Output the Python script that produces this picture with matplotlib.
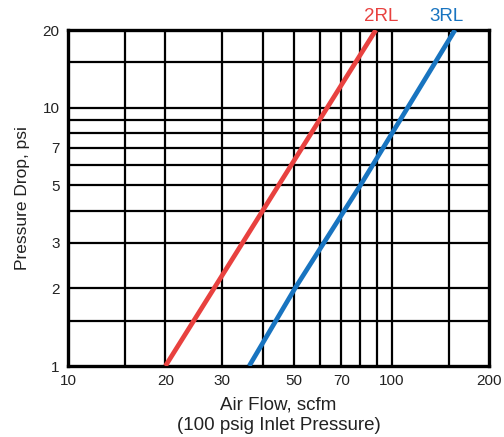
import matplotlib
matplotlib.use("Agg")
import matplotlib.pyplot as plt
from matplotlib.ticker import FixedLocator, NullLocator, FixedFormatter

plt.rcParams['font.family'] = ['Liberation Sans', 'DejaVu Sans']

# Data
flow_2rl = [20, 89.4]
drop_2rl = [1, 20]
flow_3rl = [36.3, 50.3, 80, 157]
drop_3rl = [1, 2, 5, 20]

x_grid = [15, 20, 30, 40, 50, 60, 70, 80, 90, 100, 150]
y_grid = [1.5, 2, 3, 4, 5, 6, 7, 8, 9, 10, 15]
x_ticks = [10, 20, 30, 50, 70, 100, 200]
y_ticks = [1, 2, 3, 5, 7, 10, 20]

red = '#E8413F'
blue = '#1874C0'

fig = plt.figure(figsize=(5.04, 4.37), dpi=100)
ax = fig.add_axes([68/504, 1-366/437, (489-68)/504, (366-30)/437])
ax.set_xscale('log')
ax.set_yscale('log')
ax.set_xlim(10, 200)
ax.set_ylim(1, 20)

for xv in x_grid:
    ax.axvline(xv, color='black', lw=1.6, zorder=1)
for yv in y_grid:
    ax.axhline(yv, color='black', lw=1.6, zorder=1)

ax.plot(flow_2rl, drop_2rl, color=red, lw=3.4, zorder=3, solid_capstyle='butt')
ax.plot(flow_3rl, drop_3rl, color=blue, lw=3.4, zorder=3, solid_capstyle='butt')

ax.xaxis.set_major_locator(FixedLocator(x_ticks))
ax.xaxis.set_major_formatter(FixedFormatter([str(v) for v in x_ticks]))
ax.xaxis.set_minor_locator(NullLocator())
ax.yaxis.set_major_locator(FixedLocator(y_ticks))
ax.yaxis.set_major_formatter(FixedFormatter([str(v) for v in y_ticks]))
ax.yaxis.set_minor_locator(NullLocator())
ax.tick_params(axis='both', length=0, labelsize=11, colors='#222222')
ax.tick_params(axis='x', pad=6)
ax.tick_params(axis='y', pad=6)

for s in ax.spines.values():
    s.set_linewidth(2.4)
    s.set_color('black')

ax.set_xlabel('Air Flow, scfm\n(100 psig Inlet Pressure)', fontsize=13.5, color='#222222',
              linespacing=1.25, labelpad=6)
ax.set_ylabel('Pressure Drop, psi', fontsize=12.5, color='#222222', labelpad=9)

trans = ax.get_xaxis_transform()
ax.text(92.7, 1.027, '2RL', color=red, fontsize=13.5, ha='center', va='baseline',
        transform=trans, clip_on=False)
ax.text(148, 1.027, '3RL', color=blue, fontsize=13.5, ha='center', va='baseline',
        transform=trans, clip_on=False)

fig.savefig('out.png', dpi=100)
